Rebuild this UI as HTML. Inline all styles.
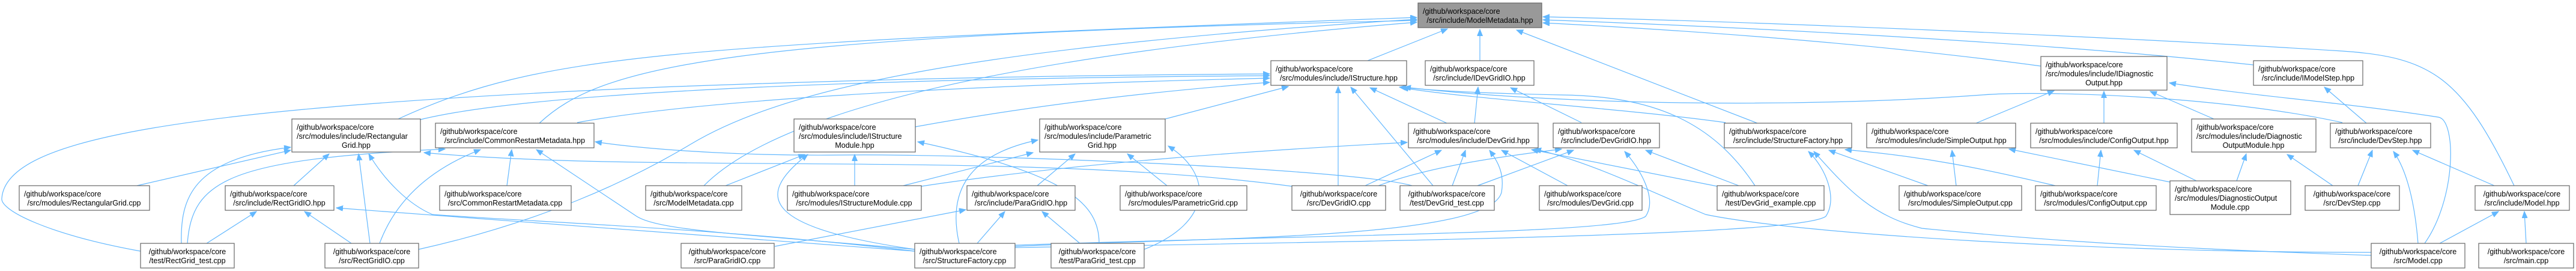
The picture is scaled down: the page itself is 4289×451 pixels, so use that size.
<!DOCTYPE html>
<html><head><meta charset="utf-8"><style>
html,body{margin:0;padding:0;background:#fff;}
svg{display:block;}
text{font-family:"Liberation Sans",Arial,sans-serif;font-size:12.5px;fill:#000;}
.n{fill:#fff;stroke:#666;stroke-width:1.2;}
.e{fill:none;stroke:#63b8ff;stroke-width:1.2;marker-end:url(#a);}
</style></head><body>
<svg width="4289" height="451" viewBox="0 0 4289 451" xmlns="http://www.w3.org/2000/svg">
<defs><marker id="a" markerUnits="userSpaceOnUse" markerWidth="12" markerHeight="10" refX="11" refY="4.5" orient="auto"><path d="M0,0 L11,4.5 L0,9 z" fill="#63b8ff" stroke="#63b8ff"/></marker></defs>
<g>
<path class="e" d="M2277,101 L2410,48"/>
<path class="e" d="M2464,101 L2464,49"/>
<path class="e" d="M2926,205 L2525,50"/>
<path class="e" d="M663,198 C900,90 1100,75 2359,29"/>
<path class="e" d="M898,205 C1000,110 1200,60 2359,34"/>
<path class="e" d="M1172,309 C1300,180 1700,90 2359,37"/>
<path class="e" d="M3398,110 C3100,70 2800,50 2569,38"/>
<path class="e" d="M3752,108 C3400,70 2900,45 2569,33"/>
<path class="e" d="M4186,309 C4100,130 4050,95 3900,85 C3500,60 2900,35 2569,28"/>
<path class="e" d="M697,415 C900,370 1050,300 1150,240 C1300,150 1600,80 2359,32"/>
<path class="e" d="M234,418 C80,390 0,350 3,330 C10,230 300,180 1100,145 C1500,130 1800,125 2114,123"/>
<path class="e" d="M700,199 C900,150 1500,130 2114,126"/>
<path class="e" d="M961,204 C1200,160 1700,140 2114,130"/>
<path class="e" d="M1524,211 C1750,170 1950,150 2114,137"/>
<path class="e" d="M1940,198 L2145,144"/>
<path class="e" d="M2228,309 L2228,144"/>
<path class="e" d="M2386,309 L2249,145"/>
<path class="e" d="M2409,205 L2281,146"/>
<path class="e" d="M2922,309 C2850,200 2750,160 2600,158 C2450,155 2380,150 2330,145"/>
<path class="e" d="M2873,204 C2700,180 2450,165 2334,146"/>
<path class="e" d="M3900,204 C3700,160 3400,150 3300,158 C3000,180 2600,175 2338,145"/>
<path class="e" d="M228,309 L484,250"/>
<path class="e" d="M302,405 C300,330 320,265 484,245"/>
<path class="e" d="M312,405 C320,300 380,265 741,248"/>
<path class="e" d="M489,309 L548,256"/>
<path class="e" d="M616,405 L597,256"/>
<path class="e" d="M1523,418 C1200,380 900,370 720,357 C680,340 640,300 614,256"/>
<path class="e" d="M2151,310 C1700,250 1100,290 706,254"/>
<path class="e" d="M844,309 L852,249"/>
<path class="e" d="M632,405 C660,330 720,280 800,249"/>
<path class="e" d="M1523,415 C1250,390 1100,385 1060,360 C1000,320 940,280 893,249"/>
<path class="e" d="M1534,310 C1800,270 2100,250 2343,237"/>
<path class="e" d="M2351,309 C2250,280 1600,255 1400,258 C1200,260 1050,245 991,236"/>
<path class="e" d="M1423,309 L1423,257"/>
<path class="e" d="M1208,309 L1340,257"/>
<path class="e" d="M1523,415 C1280,380 1250,330 1345,257"/>
<path class="e" d="M1830,405 C1830,340 1780,290 1528,236"/>
<path class="e" d="M1727,309 L1790,256"/>
<path class="e" d="M1943,309 L1877,256"/>
<path class="e" d="M1597,405 C1580,330 1600,260 1728,233"/>
<path class="e" d="M1504,309 L1720,254"/>
<path class="e" d="M1905,415 C2020,370 2020,290 1945,243"/>
<path class="e" d="M1290,410 L1608,349"/>
<path class="e" d="M1627,405 L1673,352"/>
<path class="e" d="M1798,405 L1735,352"/>
<path class="e" d="M2455,205 L2461,145"/>
<path class="e" d="M2633,204 L2515,146"/>
<path class="e" d="M2273,309 L2400,250"/>
<path class="e" d="M2418,309 L2440,250"/>
<path class="e" d="M2610,309 L2500,250"/>
<path class="e" d="M2859,310 L2550,249"/>
<path class="e" d="M1690,410 C2000,395 2480,400 2500,320 C2505,290 2495,270 2480,250"/>
<path class="e" d="M3948,420 C3500,420 3000,390 2840,357 C2750,320 2650,270 2555,248"/>
<path class="e" d="M2295,309 C2400,270 2550,255 2600,248"/>
<path class="e" d="M2460,309 L2620,250"/>
<path class="e" d="M1690,408 C2200,390 2700,390 2740,360 C2760,330 2730,280 2705,252"/>
<path class="e" d="M2895,309 L2740,250"/>
<path class="e" d="M1690,412 C2400,400 3000,390 3040,360 C3060,330 3040,280 3011,252"/>
<path class="e" d="M3948,425 C3500,410 3300,390 3200,380 C3120,360 3080,320 3020,252"/>
<path class="e" d="M3210,309 L3045,250"/>
<path class="e" d="M3422,309 C3300,280 3200,260 3072,249"/>
<path class="e" d="M3257,309 L3250,250"/>
<path class="e" d="M3613,303 L3345,248"/>
<path class="e" d="M3290,205 L3420,151"/>
<path class="e" d="M3503,205 L3503,152"/>
<path class="e" d="M3686,198 L3580,152"/>
<path class="e" d="M4037,405 C4090,330 4090,200 4060,195 C3900,170 3750,160 3612,138"/>
<path class="e" d="M3492,309 L3498,250"/>
<path class="e" d="M3657,301 L3553,250"/>
<path class="e" d="M3724,301 L3740,256"/>
<path class="e" d="M3884,309 L3808,257"/>
<path class="e" d="M3940,205 L3870,145"/>
<path class="e" d="M3926,309 L3950,250"/>
<path class="e" d="M4026,405 C4020,330 4005,280 3985,252"/>
<path class="e" d="M4153,309 L4017,250"/>
<path class="e" d="M4062,405 L4160,352"/>
<path class="e" d="M4206,405 L4203,352"/>
<path class="e" d="M344,405 L427,352"/>
<path class="e" d="M585,405 L507,352"/>
<path class="e" d="M1523,418 L560,346"/>
</g>
<g>
<rect x="2361" y="5" width="206" height="41" fill="#999" stroke="#666" stroke-width="1.2"/>
<text x="2369" y="23">/github/workspace/core</text><text x="2464" y="38" text-anchor="middle">/src/include/ModelMetadata.hpp</text>

<rect class="n" x="2116" y="101" width="226" height="41"/><text x="2124" y="119">/github/workspace/core</text><text x="2229" y="134" text-anchor="middle">/src/modules/include/IStructure.hpp</text>
<rect class="n" x="2373" y="101" width="181" height="41"/><text x="2381" y="119">/github/workspace/core</text><text x="2463" y="134" text-anchor="middle">/src/include/IDevGridIO.hpp</text>
<rect class="n" x="3398" y="94" width="210" height="56"/><text x="3406" y="112">/github/workspace/core</text><text x="3406" y="127">/src/modules/include/IDiagnostic</text><text x="3503" y="142" text-anchor="middle">Output.hpp</text>
<rect class="n" x="3752" y="101" width="182" height="41"/><text x="3760" y="119">/github/workspace/core</text><text x="3843" y="134" text-anchor="middle">/src/include/IModelStep.hpp</text>

<rect class="n" x="486" y="198" width="214" height="55"/><text x="494" y="216">/github/workspace/core</text><text x="494" y="231">/src/modules/include/Rectangular</text><text x="593" y="246" text-anchor="middle">Grid.hpp</text>
<rect class="n" x="725" y="205" width="264" height="41"/><text x="733" y="223">/github/workspace/core</text><text x="857" y="238" text-anchor="middle">/src/include/CommonRestartMetadata.hpp</text>
<rect class="n" x="1322" y="198" width="202" height="55"/><text x="1330" y="216">/github/workspace/core</text><text x="1330" y="231">/src/modules/include/IStructure</text><text x="1423" y="246" text-anchor="middle">Module.hpp</text>
<rect class="n" x="1731" y="198" width="209" height="55"/><text x="1739" y="216">/github/workspace/core</text><text x="1739" y="231">/src/modules/include/Parametric</text><text x="1835" y="246" text-anchor="middle">Grid.hpp</text>
<rect class="n" x="2345" y="205" width="216" height="41"/><text x="2353" y="223">/github/workspace/core</text><text x="2453" y="238" text-anchor="middle">/src/modules/include/DevGrid.hpp</text>
<rect class="n" x="2586" y="205" width="177" height="41"/><text x="2594" y="223">/github/workspace/core</text><text x="2674" y="238" text-anchor="middle">/src/include/DevGridIO.hpp</text>
<rect class="n" x="2871" y="205" width="212" height="41"/><text x="2879" y="223">/github/workspace/core</text><text x="2977" y="238" text-anchor="middle">/src/include/StructureFactory.hpp</text>
<rect class="n" x="3108" y="205" width="248" height="41"/><text x="3116" y="223">/github/workspace/core</text><text x="3232" y="238" text-anchor="middle">/src/modules/include/SimpleOutput.hpp</text>
<rect class="n" x="3381" y="205" width="244" height="41"/><text x="3389" y="223">/github/workspace/core</text><text x="3503" y="238" text-anchor="middle">/src/modules/include/ConfigOutput.hpp</text>
<rect class="n" x="3649" y="198" width="207" height="55"/><text x="3657" y="216">/github/workspace/core</text><text x="3657" y="231">/src/modules/include/Diagnostic</text><text x="3752" y="246" text-anchor="middle">OutputModule.hpp</text>
<rect class="n" x="3880" y="205" width="167" height="41"/><text x="3888" y="223">/github/workspace/core</text><text x="3963" y="238" text-anchor="middle">/src/include/DevStep.hpp</text>

<rect class="n" x="32" y="309" width="217" height="41"/><text x="40" y="327">/github/workspace/core</text><text x="140" y="342" text-anchor="middle">/src/modules/RectangularGrid.cpp</text>
<rect class="n" x="375" y="309" width="181" height="41"/><text x="383" y="327">/github/workspace/core</text><text x="465" y="342" text-anchor="middle">/src/include/RectGridIO.hpp</text>
<rect class="n" x="732" y="309" width="219" height="41"/><text x="740" y="327">/github/workspace/core</text><text x="841" y="342" text-anchor="middle">/src/CommonRestartMetadata.cpp</text>
<rect class="n" x="1075" y="309" width="160" height="41"/><text x="1083" y="327">/github/workspace/core</text><text x="1155" y="342" text-anchor="middle">/src/ModelMetadata.cpp</text>
<rect class="n" x="1311" y="309" width="223" height="41"/><text x="1319" y="327">/github/workspace/core</text><text x="1422" y="342" text-anchor="middle">/src/modules/IStructureModule.cpp</text>
<rect class="n" x="1610" y="309" width="180" height="41"/><text x="1618" y="327">/github/workspace/core</text><text x="1700" y="342" text-anchor="middle">/src/include/ParaGridIO.hpp</text>
<rect class="n" x="1865" y="309" width="211" height="41"/><text x="1873" y="327">/github/workspace/core</text><text x="1970" y="342" text-anchor="middle">/src/modules/ParametricGrid.cpp</text>
<rect class="n" x="2151" y="309" width="156" height="41"/><text x="2229" y="327" text-anchor="middle">/github/workspace/core</text><text x="2229" y="342" text-anchor="middle">/src/DevGridIO.cpp</text>
<rect class="n" x="2331" y="309" width="157" height="41"/><text x="2409" y="327" text-anchor="middle">/github/workspace/core</text><text x="2409" y="342" text-anchor="middle">/test/DevGrid_test.cpp</text>
<rect class="n" x="2563" y="309" width="171" height="41"/><text x="2571" y="327">/github/workspace/core</text><text x="2648" y="342" text-anchor="middle">/src/modules/DevGrid.cpp</text>
<rect class="n" x="2859" y="309" width="178" height="41"/><text x="2867" y="327">/github/workspace/core</text><text x="2948" y="342" text-anchor="middle">/test/DevGrid_example.cpp</text>
<rect class="n" x="3162" y="309" width="204" height="41"/><text x="3170" y="327">/github/workspace/core</text><text x="3264" y="342" text-anchor="middle">/src/modules/SimpleOutput.cpp</text>
<rect class="n" x="3389" y="309" width="201" height="41"/><text x="3397" y="327">/github/workspace/core</text><text x="3489" y="342" text-anchor="middle">/src/modules/ConfigOutput.cpp</text>
<rect class="n" x="3613" y="301" width="201" height="56"/><text x="3621" y="319">/github/workspace/core</text><text x="3621" y="334">/src/modules/DiagnosticOutput</text><text x="3713" y="349" text-anchor="middle">Module.cpp</text>
<rect class="n" x="3838" y="309" width="157" height="41"/><text x="3916" y="327" text-anchor="middle">/github/workspace/core</text><text x="3916" y="342" text-anchor="middle">/src/DevStep.cpp</text>
<rect class="n" x="4121" y="309" width="157" height="41"/><text x="4199" y="327" text-anchor="middle">/github/workspace/core</text><text x="4199" y="342" text-anchor="middle">/src/include/Model.hpp</text>

<rect class="n" x="234" y="405" width="156" height="41"/><text x="312" y="423" text-anchor="middle">/github/workspace/core</text><text x="312" y="438" text-anchor="middle">/test/RectGrid_test.cpp</text>
<rect class="n" x="541" y="405" width="156" height="41"/><text x="619" y="423" text-anchor="middle">/github/workspace/core</text><text x="619" y="438" text-anchor="middle">/src/RectGridIO.cpp</text>
<rect class="n" x="1134" y="405" width="155" height="41"/><text x="1211" y="423" text-anchor="middle">/github/workspace/core</text><text x="1211" y="438" text-anchor="middle">/src/ParaGridIO.cpp</text>
<rect class="n" x="1523" y="405" width="167" height="41"/><text x="1531" y="423">/github/workspace/core</text><text x="1606" y="438" text-anchor="middle">/src/StructureFactory.cpp</text>
<rect class="n" x="1750" y="405" width="155" height="41"/><text x="1827" y="423" text-anchor="middle">/github/workspace/core</text><text x="1827" y="438" text-anchor="middle">/test/ParaGrid_test.cpp</text>
<rect class="n" x="3948" y="405" width="156" height="41"/><text x="4026" y="423" text-anchor="middle">/github/workspace/core</text><text x="4026" y="438" text-anchor="middle">/src/Model.cpp</text>
<rect class="n" x="4127" y="405" width="158" height="41"/><text x="4206" y="423" text-anchor="middle">/github/workspace/core</text><text x="4206" y="438" text-anchor="middle">/src/main.cpp</text>
</g>
</svg>
</body></html>
